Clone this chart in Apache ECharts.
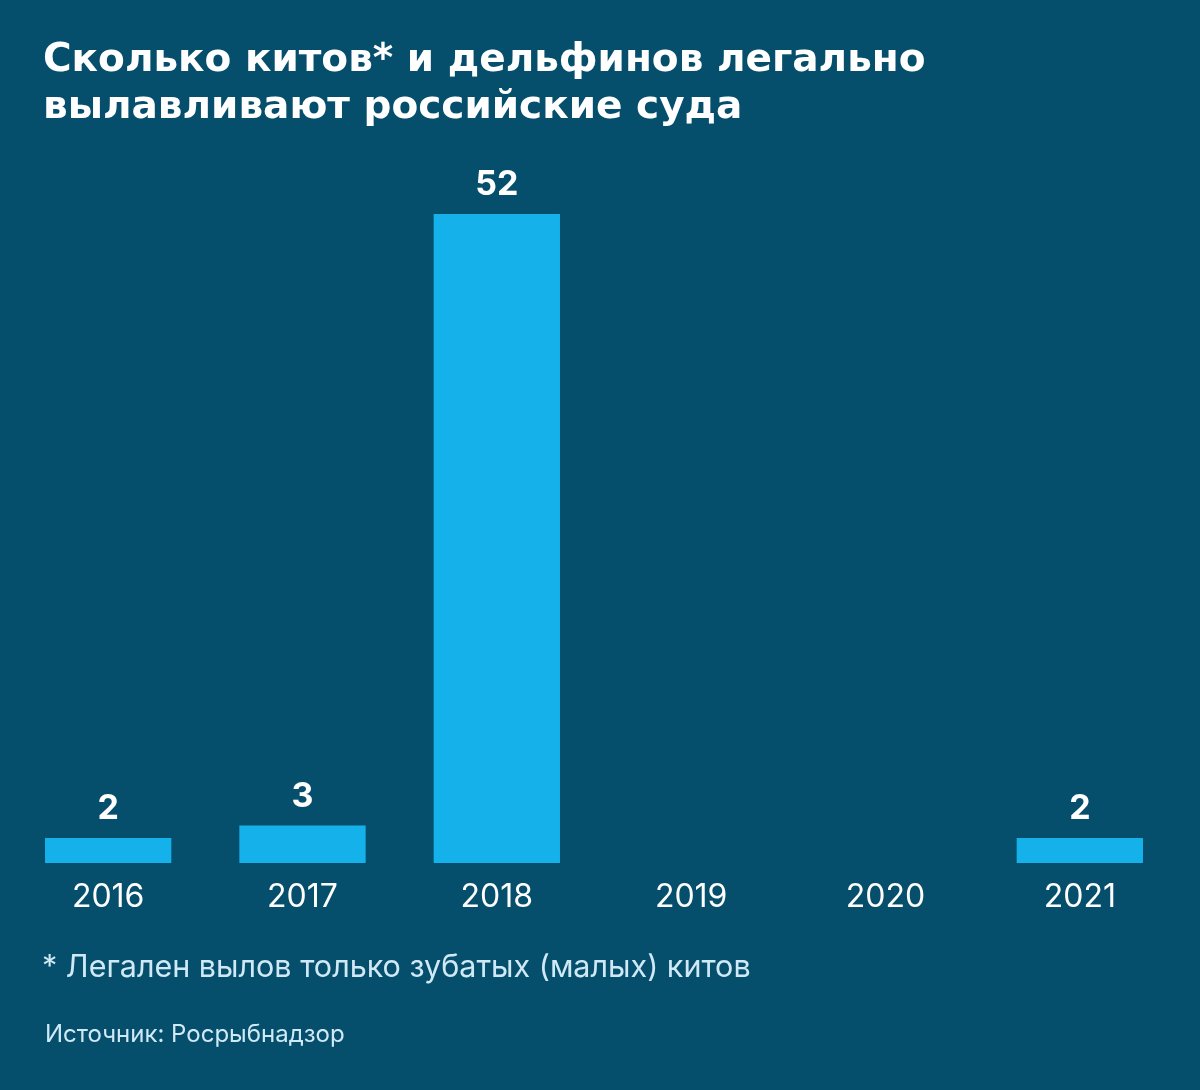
<!DOCTYPE html>
<html>
<head>
<meta charset="utf-8">
<script src="https://cdn.jsdelivr.net/npm/echarts@6/dist/echarts.min.js"></script>
<style>
  html, body { margin: 0; padding: 0; background: #064f6c; }
  #chart { width: 1200px; height: 1090px; }
</style>
</head>
<body>
<div id="chart"></div>
<script>
// data
var years = ['2016', '2017', '2018', '2019', '2020', '2021'];
var caught = [2, 3, 52, null, null, 2];

var fontName = 'Inter, "Noto Sans", sans-serif';
var titleFont = '"DejaVu Sans", Inter, sans-serif';

var chart = echarts.init(document.getElementById('chart'));
chart.setOption({
	backgroundColor: '#064f6c',
	animation: false,
	title: {
		text: 'Сколько китов* и дельфинов легально\nвылавливают российские суда',
		left: 38,
		top: 32,
		textStyle: {
			color: '#ffffff',
			fontFamily: titleFont,
			fontWeight: 'bold',
			fontSize: 39,
			lineHeight: 47
		}
	},
	grid: { left: 11, right: 23, top: 214, bottom: 227 },
	xAxis: {
		type: 'category',
		data: years,
		axisLine: { show: false },
		axisTick: { show: false },
		axisLabel: {
			color: '#ffffff',
			fontFamily: fontName,
			fontSize: 32,
			margin: 18
		}
	},
	yAxis: {
		type: 'value',
		min: 0,
		max: 52,
		show: false,
		splitLine: { show: false }
	},
	series: [{
		type: 'bar',
		data: caught,
		barWidth: '65%',
		itemStyle: { color: '#14b1ea' },
		label: {
			show: true,
			position: 'top',
			distance: 12,
			color: '#ffffff',
			fontFamily: fontName,
			fontWeight: 'bold',
			fontSize: 34
		}
	}],
	graphic: [{
		type: 'text',
		left: 42,
		top: 952,
		style: {
			text: '* Легален вылов только зубатых (малых) китов',
			fill: '#cfe9f6',
			font: '30.5px ' + fontName
		}
	}, {
		type: 'text',
		left: 45,
		top: 1023,
		style: {
			text: 'Источник: Росрыбнадзор',
			fill: '#cfe9f6',
			font: '24px ' + fontName
		}
	}]
});
</script>
</body>
</html>
